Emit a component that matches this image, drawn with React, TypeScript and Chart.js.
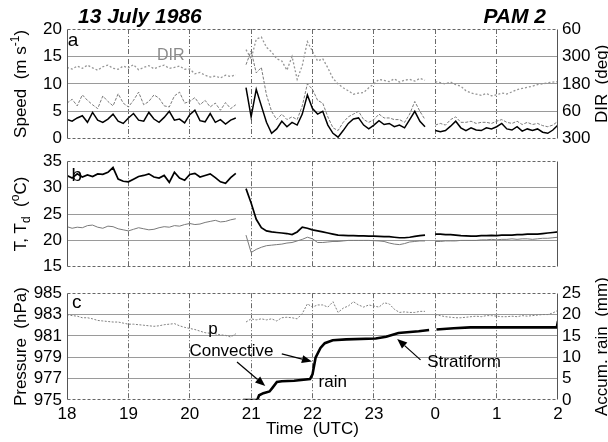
import React, { useEffect, useRef } from 'react';
import { Chart, registerables } from 'chart.js';

Chart.register(...registerables);

const FONT = '"Liberation Sans", Arial, Helvetica, sans-serif';

// ---- Data: 5-minute samples from 18:00 UTC (13 July) to 02:00 UTC (hour 26) ----
// Wind speed (m/s), black
const windSpeed: (number | null)[] = [
  3.5, 3.2, 3.8, 4.2, 3.0, 4.8, 3.4, 3.0, 3.6, 4.5, 3.2, 2.8,
  3.8, 4.6, 3.4, 3.2, 4.8, 3.6, 3.0, 3.9, 5.0, 3.4, 3.6, 2.9,
  4.4, 5.2, 3.3, 3.1, 4.6, 3.0, 3.5, 2.7, 3.4, 3.8, null, 9.3,
  4.0, 9.0, 6.0, 3.0, 1.0, 1.8, 3.2, 2.2, 3.0, 2.5, 4.5, 8.0,
  5.5, 4.5, 5.0, 2.5, 1.0, 0.3, 1.5, 2.8, 3.6, 3.8, 2.5, 1.8,
  2.5, 3.3, 2.6, 2.8, 2.2, 2.5, 2.0, 3.5, 5.0, 3.2, 2.2, null,
  1.5, 1.3, 1.5, 2.3, 3.2, 2.0, 1.5, 2.0, 1.6, 1.5, 2.0, 1.8,
  2.2, 2.8, 1.8, 1.6, 2.2, 1.4, 1.8, 1.5, 1.8, 1.2, 1.0, 1.6,
  2.5,
];
// Gust / peak wind (m/s), grey dashed
const windGust: (number | null)[] = [
  6.5, 7.2, 6.0, 8.0, 7.0, 6.2, 5.5, 7.8, 6.8, 6.0, 8.2, 6.5,
  5.8, 7.0, 8.5, 6.2, 6.8, 8.0, 7.4, 6.0, 5.8, 7.8, 8.5, 6.5,
  6.8, 7.5, 6.2, 7.0, 5.8, 6.5, 5.2, 6.6, 5.5, 6.2, null, 13.5,
  16.0, 12.0, 13.0, 8.0, 5.0, 3.5, 4.5, 3.5, 4.0, 3.5, 6.0, 10.0,
  9.0, 7.0, 6.5, 4.0, 2.0, 1.5, 3.0, 4.0, 4.5, 5.0, 3.5, 3.0,
  3.5, 4.5, 3.8, 3.8, 3.5, 3.5, 3.0, 4.5, 6.8, 5.0, 3.5, null,
  2.5, 2.8, 2.5, 3.5, 4.0, 3.0, 3.0, 3.2, 2.8, 3.0, 3.0, 2.8,
  3.2, 3.5, 3.0, 2.8, 3.2, 2.6, 3.0, 2.6, 2.8, 2.4, 2.2, 2.5,
  3.2,
];
// Wind direction (deg, unwrapped onto the 300..780 axis; labels shown modulo 360)
const windDir: (number | null)[] = [
  612, 605, 618, 608, 622, 610, 600, 615, 622, 608, 604, 618,
  610, 624, 602, 612, 620, 606, 615, 622, 608, 612, 618, 604,
  605, 584, 590, 578, 570, 574, 566, 578, 572, 580, null, 690,
  650, 735, 745, 700, 680, 650, 640, 600, 660, 560, 620, 725,
  682, 640, 650, 610, 564, 540, 523, 510, 495, 500, 502, 523,
  540, 560, 555, 550, 562, 548, 556, 560, 552, 564, 556, null,
  550, 545, 540, 548, 537, 530, 510, 500, 495, 490, 498, 488,
  492, 500, 496, 505, 515, 520, 525, 530, 537, 540, 545, 548,
  550,
];
// Temperature T (°C), black
const temperature: (number | null)[] = [
  32.3, 31.8, 32.6, 32.0, 32.4, 32.1, 32.6, 32.5, 32.9, 33.8, 31.6, 31.2,
  31.1, 31.6, 32.1, 32.3, 32.6, 32.0, 31.8, 32.3, 31.0, 32.9, 31.8, 31.4,
  32.5, 32.7, 32.0, 32.3, 32.6, 31.9, 31.1, 30.8, 31.9, 32.7, null, 29.8,
  27.1, 24.0, 22.4, 21.8, 21.6, 21.5, 21.4, 21.3, 21.1, 21.6, 22.5, 22.3,
  22.0, 21.8, 21.6, 21.4, 21.2, 21.0, 20.95, 20.9, 20.9, 20.85, 20.85, 20.8,
  20.8, 20.75, 20.7, 20.7, 20.6, 20.5, 20.5, 20.6, 20.75, 20.9, 21.0, null,
  21.2, 21.2, 21.1, 21.1, 21.0, 20.9, 20.85, 20.8, 20.8, 20.9, 20.9, 20.95,
  20.9, 21.0, 21.0, 21.0, 21.1, 21.1, 21.2, 21.2, 21.2, 21.3, 21.4, 21.5,
  21.6,
];
// Dew point Td (°C), grey
const dewPoint: (number | null)[] = [
  22.6, 22.3, 22.5, 22.4, 22.8, 22.9, 22.5, 22.3, 22.7, 22.6, 22.2, 22.0,
  21.8, 22.1, 22.4, 22.2, 22.0, 22.1, 22.4, 22.6, 22.5, 22.8, 22.7, 23.0,
  23.2, 23.0, 23.1, 23.4, 23.6, 23.8, 23.5, 23.6, 23.9, 24.1, null, 21.0,
  17.7, 18.3, 18.7, 19.0, 19.1, 19.2, 19.3, 19.5, 19.6, 19.9, 20.2, 20.6,
  20.3, 19.6, 19.6, 19.7, 19.8, 19.8, 19.9, 20.0, 20.0, 20.0, 20.0, 20.0,
  19.95, 19.9, 19.8, 19.5, 19.3, 19.2, 19.4, 19.7, 19.8, 19.9, 19.9, null,
  19.8, 19.8, 19.9, 19.9, 19.9, 20.0, 20.0, 20.0, 20.0, 20.1, 20.1, 20.2,
  20.1, 20.2, 20.2, 20.3, 20.2, 20.3, 20.3, 20.2, 20.3, 20.4, 20.4, 20.5,
  20.6,
];
// Surface pressure p (hPa), grey dotted
const pressure: (number | null)[] = [
  983.0, 982.9, 982.85, 982.7, 982.7, 982.6, 982.45, 982.4, 982.35, 982.3, 982.3, 982.2,
  982.1, 982.1, 982.05, 982.0, 981.95, 981.9, 981.95, 982.05, 982.1, 982.15, 981.95, 981.8,
  981.7, 981.6, 981.45, 981.3, 981.25, 981.2, 981.1, 981.05, 980.9, 981.2, null, 982.3,
  982.6, 982.5, 982.6, 982.5, 982.6, 982.4, 982.7, 982.75, 982.7, 982.6, 983.1, 984.0,
  983.7, 983.9, 983.9, 983.7, 984.2, 983.2, 983.6, 983.8, 984.2, 983.9, 983.7, 983.9,
  983.8, 983.7, 984.1, 984.0, 983.5, 983.2, 983.25, 983.2, 983.2, 983.3, 983.3, null,
  983.0, 982.9, 982.8, 982.75, 982.7, 982.7, 982.75, 982.8, 982.85, 982.8, 982.9, 982.9,
  982.85, 982.8, 982.8, 982.85, 982.8, 982.9, 982.85, 982.9, 982.95, 983.0, 983.0, 983.15,
  983.4,
];
// Accumulated rain (mm), black
const rainTimes: number[] = [
  20.87, 21.1, 21.13, 21.2, 21.3, 21.35, 21.42, 21.5, 21.7, 21.96, 22.0, 22.05,
  22.13, 22.2, 22.33, 22.55, 23.03, 23.2, 23.4, 23.73, 23.9, 23.95, 24.02, 24.3,
  24.57, 25.98, 26.0,
];
const rainAccum: (number | null)[] = [
  0, 0, 1.1, 1.6, 2.0, 2.9, 4.2, 4.4, 4.5, 4.9, 6.0, 9.9,
  12.2, 13.3, 14.0, 14.2, 14.4, 14.8, 15.7, 16.1, 16.4, null, 16.5, 16.8,
  17.0, 17.0, 18.5,
];

// Tick values
const hourTicks = [18, 19, 20, 21, 22, 23, 24, 25, 26];

// sampling time grid (hours) of the 5-minute series
const HOURS = windSpeed.map((_, i) => 18 + (i * 5) / 60);
const pts = (arr: (number | null)[]) => arr.map((v, i) => ({ x: HOURS[i], y: v }));

// ---- drawing helpers ----
type Seg = { t: string; sup?: boolean; sub?: boolean };
function drawRich(ctx: CanvasRenderingContext2D, segs: Seg[], cx: number, cy: number, size: number) {
  ctx.save();
  ctx.translate(cx, cy);
  ctx.rotate(-Math.PI / 2);
  ctx.fillStyle = '#000';
  ctx.textBaseline = 'alphabetic';
  ctx.textAlign = 'left';
  const small = Math.round(size * 0.68);
  const fontOf = (s: Seg) => `${s.sup || s.sub ? small : size}px ${FONT}`;
  let total = 0;
  const ws = segs.map((s) => {
    ctx.font = fontOf(s);
    const w = ctx.measureText(s.t).width;
    total += w;
    return w;
  });
  let x = -total / 2;
  const base = size * 0.36;
  segs.forEach((s, i) => {
    ctx.font = fontOf(s);
    const dy = s.sup ? -size * 0.42 : s.sub ? size * 0.25 : 0;
    ctx.fillText(s.t, x, base + dy);
    x += ws[i];
  });
  ctx.restore();
}

function text(
  ctx: CanvasRenderingContext2D,
  t: string,
  x: number,
  y: number,
  o: { size?: number; color?: string; align?: CanvasTextAlign; font?: string } = {}
) {
  ctx.save();
  ctx.font = o.font ?? `${o.size ?? 17}px ${FONT}`;
  ctx.fillStyle = o.color ?? '#000';
  ctx.textAlign = o.align ?? 'center';
  ctx.textBaseline = 'middle';
  ctx.fillText(t, x, y);
  ctx.restore();
}

function arrow(ctx: CanvasRenderingContext2D, x1: number, y1: number, x2: number, y2: number) {
  ctx.save();
  ctx.strokeStyle = '#000';
  ctx.fillStyle = '#000';
  ctx.lineWidth = 1.2;
  ctx.setLineDash([]);
  const a = Math.atan2(y2 - y1, x2 - x1);
  const L = 10;
  const W = 4;
  const bx = x2 - L * Math.cos(a);
  const by = y2 - L * Math.sin(a);
  ctx.beginPath();
  ctx.moveTo(x1, y1);
  ctx.lineTo(bx, by);
  ctx.stroke();
  ctx.beginPath();
  ctx.moveTo(x2, y2);
  ctx.lineTo(bx + W * Math.sin(a), by - W * Math.cos(a));
  ctx.lineTo(bx - W * Math.sin(a), by + W * Math.cos(a));
  ctx.closePath();
  ctx.fill();
  ctx.restore();
}

function drawFrame(chart: any, ctx: CanvasRenderingContext2D) {
  const { left, right, top, bottom } = chart.chartArea;
  const l = Math.round(left) + 0.5;
  const r = Math.round(right) - 0.5;
  const t = Math.round(top) + 0.5;
  const b = Math.round(bottom) - 0.5;
  ctx.save();
  ctx.strokeStyle = '#555';
  ctx.lineWidth = 1;
  ctx.setLineDash([]);
  ctx.beginPath();
  ctx.moveTo(l, t);
  ctx.lineTo(l, b);
  ctx.moveTo(r, t);
  ctx.lineTo(r, b);
  ctx.stroke();
  ctx.setLineDash([3, 2]);
  ctx.strokeStyle = '#666';
  ctx.beginPath();
  ctx.moveTo(l, t);
  ctx.lineTo(r, t);
  ctx.moveTo(l, b);
  ctx.lineTo(r, b);
  ctx.stroke();
  ctx.restore();
}

const overlay = (draw: (chart: any, ctx: CanvasRenderingContext2D) => void) => ({
  id: 'overlay',
  afterDraw(chart: any) {
    const ctx = chart.ctx as CanvasRenderingContext2D;
    ctx.save();
    drawFrame(chart, ctx);
    draw(chart, ctx);
    ctx.restore();
  },
});

// ---- scales ----
const xScale = (showLabels: boolean, h: number) => ({
  type: 'linear',
  position: 'bottom',
  min: 18,
  max: 26,
  afterFit: (s: any) => {
    s.height = h;
  },
  afterBuildTicks: (s: any) => {
    s.ticks = hourTicks.map((v) => ({ value: v }));
  },
  ticks: {
    display: showLabels,
    padding: 4,
    color: '#000',
    font: { family: FONT, size: 17 },
    maxRotation: 0,
    autoSkip: false,
    callback: (v: any) => String(Number(v) % 24),
  },
  grid: {
    drawTicks: false,
    lineWidth: 1,
    color: (c: any) => (c.tick && (c.tick.value === 18 || c.tick.value === 26) ? 'rgba(0,0,0,0)' : '#6a6a6a'),
  },
  border: { display: false, dash: [5, 2, 1, 2] },
  title: showLabels
    ? { display: true, text: 'Time  (UTC)', color: '#000', font: { family: FONT, size: 17 }, padding: { top: 0, bottom: 2 } }
    : { display: false },
});

const yScale = (
  pos: 'left' | 'right',
  min: number,
  max: number,
  step: number,
  width: number,
  showGrid: boolean,
  fmt?: (v: number) => string
) => ({
  type: 'linear',
  position: pos,
  min,
  max,
  afterFit: (s: any) => {
    s.width = width;
  },
  ticks: {
    stepSize: step,
    padding: pos === 'left' ? 5 : 4,
    color: '#000',
    autoSkip: false,
    font: { family: FONT, size: 17 },
    callback: (v: any) => (fmt ? fmt(Number(v)) : String(v)),
  },
  grid: {
    display: showGrid,
    drawTicks: false,
    lineWidth: 1,
    color: (c: any) => (c.tick && (c.tick.value === min || c.tick.value === max) ? 'rgba(0,0,0,0)' : '#9a9a9a'),
  },
  border: { display: false },
});

const common = {
  responsive: false,
  animation: false as const,
  events: [] as any[],
  plugins: { legend: { display: false }, tooltip: { enabled: false }, title: { display: false } },
  elements: { point: { radius: 0 }, line: { tension: 0 } },
};

// ---- panel configs ----
function configA(): any {
  return {
    type: 'line',
    data: {
      datasets: [
        { data: pts(windSpeed), yAxisID: 'yl', borderColor: '#000', borderWidth: 1.5, spanGaps: false },
        { data: pts(windGust), yAxisID: 'yl', borderColor: '#7a7a7a', borderWidth: 1, borderDash: [3, 1.5], spanGaps: false },
        { data: pts(windDir), yAxisID: 'yr', borderColor: '#969696', borderWidth: 1.3, borderDash: [2, 2], spanGaps: false },
      ],
    },
    options: {
      ...common,
      layout: { padding: { top: 29, left: 0, right: 0, bottom: 0 } },
      scales: {
        x: xScale(false, 12),
        yl: yScale('left', 0, 20, 5, 67, true),
        yr: yScale('right', 300, 780, 120, 50, false, (v) => String(v % 360)),
      },
    },
    plugins: [
      overlay((chart, ctx) => {
        const x = chart.scales.x;
        const y = chart.scales.yl;
        const ca = chart.chartArea;
        text(ctx, '13 July 1986', 78, 17, { font: `italic bold 21px ${FONT}`, align: 'left' });
        text(ctx, 'PAM 2', 546, 17, { font: `italic bold 21px ${FONT}`, align: 'right' });
        text(ctx, 'a', x.getPixelForValue(18.1), y.getPixelForValue(17.9), { size: 19 });
        text(ctx, 'DIR', x.getPixelForValue(19.69), y.getPixelForValue(15.2), { size: 16, color: '#8a8a8a' });
        const cy = (ca.top + ca.bottom) / 2;
        drawRich(ctx, [{ t: 'Speed  (m s' }, { t: '-1', sup: true }, { t: ')' }], 20, cy, 17);
        drawRich(ctx, [{ t: 'DIR  (deg)' }], 601, cy, 17);
      }),
    ],
  };
}

function configB(): any {
  return {
    type: 'line',
    data: {
      datasets: [
        { data: pts(temperature), yAxisID: 'yl', borderColor: '#000', borderWidth: 1.7, spanGaps: false },
        { data: pts(dewPoint), yAxisID: 'yl', borderColor: '#7a7a7a', borderWidth: 1, spanGaps: false },
      ],
    },
    options: {
      ...common,
      layout: { padding: { top: 11, left: 0, right: 50, bottom: 0 } },
      scales: {
        x: xScale(false, 12),
        yl: yScale('left', 15, 35, 5, 67, true),
      },
    },
    plugins: [
      overlay((chart, ctx) => {
        const x = chart.scales.x;
        const y = chart.scales.yl;
        const ca = chart.chartArea;
        text(ctx, 'b', x.getPixelForValue(18.16), y.getPixelForValue(32.3), { size: 19 });
        drawRich(
          ctx,
          [{ t: 'T, T' }, { t: 'd', sub: true }, { t: '  (' }, { t: 'o', sup: true }, { t: 'C)' }],
          20,
          (ca.top + ca.bottom) / 2,
          17
        );
      }),
    ],
  };
}

const rainArrows = [
  { from: [20.77, 8.9], to: [21.23, 3.3] },
  { from: [21.5, 10.8], to: [21.99, 9.0] },
  { from: [23.76, 9.4], to: [23.38, 14.3] },
];
const rainLabels = [
  { t: 'Convective', h: 20.68, mm: 11.5 },
  { t: 'rain', h: 22.33, mm: 4.05 },
  { t: 'Stratiform', h: 24.47, mm: 8.8 },
];

function configC(): any {
  return {
    type: 'line',
    data: {
      datasets: [
        {
          data: rainTimes.map((t, i) => ({ x: t, y: rainAccum[i] })),
          yAxisID: 'yr',
          borderColor: '#000',
          borderWidth: 2.6,
          spanGaps: false,
        },
        { data: pts(pressure), yAxisID: 'yl', borderColor: '#808080', borderWidth: 1, borderDash: [2, 1.5], spanGaps: false },
      ],
    },
    options: {
      ...common,
      layout: { padding: { top: 11, left: 0, right: 0, bottom: 0 } },
      scales: {
        x: xScale(true, 42),
        yl: yScale('left', 975, 985, 2, 67, true),
        yr: yScale('right', 0, 25, 5, 50, false),
      },
    },
    plugins: [
      overlay((chart, ctx) => {
        const x = chart.scales.x;
        const yl = chart.scales.yl;
        const yr = chart.scales.yr;
        const ca = chart.chartArea;
        text(ctx, 'c', x.getPixelForValue(18.16), yl.getPixelForValue(984.1), { size: 19 });
        text(ctx, 'p', x.getPixelForValue(20.38), yl.getPixelForValue(981.6), { size: 17 });
        rainLabels.forEach((l) => text(ctx, l.t, x.getPixelForValue(l.h), yr.getPixelForValue(l.mm), { size: 17 }));
        rainArrows.forEach((a) =>
          arrow(
            ctx,
            x.getPixelForValue(a.from[0]),
            yr.getPixelForValue(a.from[1]),
            x.getPixelForValue(a.to[0]),
            yr.getPixelForValue(a.to[1])
          )
        );
        const cy = (ca.top + ca.bottom) / 2;
        drawRich(ctx, [{ t: 'Pressure  (hPa)' }], 20, cy, 17);
        drawRich(ctx, [{ t: 'Accum. rain  (mm)' }], 601, cy, 17);
      }),
    ],
  };
}

export default function App() {
  const aRef = useRef<HTMLCanvasElement>(null);
  const bRef = useRef<HTMLCanvasElement>(null);
  const cRef = useRef<HTMLCanvasElement>(null);

  useEffect(() => {
    const charts = [
      new Chart(aRef.current as HTMLCanvasElement, configA()),
      new Chart(bRef.current as HTMLCanvasElement, configB()),
      new Chart(cRef.current as HTMLCanvasElement, configC()),
    ];
    return () => charts.forEach((c) => c.destroy());
  }, []);

  return (
    <div style={{ position: 'absolute', left: 0, top: 0, width: 608, height: 442, background: '#fff', overflow: 'hidden' }}>
      <canvas ref={aRef} width={608} height={154} style={{ position: 'absolute', left: 0, top: 0 }} />
      <canvas ref={bRef} width={608} height={136} style={{ position: 'absolute', left: 0, top: 146 }} />
      <canvas ref={cRef} width={608} height={164} style={{ position: 'absolute', left: 0, top: 278 }} />
    </div>
  );
}
